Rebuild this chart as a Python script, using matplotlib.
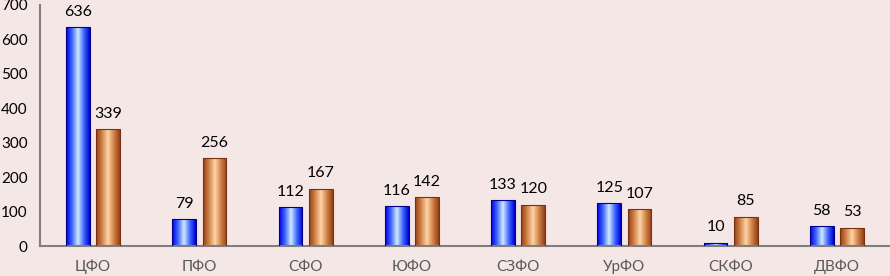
import matplotlib.pyplot as plt
import matplotlib.colors as mcolors
import numpy as np

regions = ["ЦФО", "ПФО", "СФО", "ЮФО", "СЗФО", "УрФО", "СКФО", "ДВФО"]
series_a = [636, 79, 112, 116, 133, 125, 10, 58]
series_b = [339, 256, 167, 142, 120, 107, 85, 53]

plt.rcParams['font.family'] = ['Lato', 'DejaVu Sans']
bg = '#F6E7E7'

fig = plt.figure(figsize=(8.9, 2.76), dpi=100, facecolor=bg)
ax = fig.add_axes([40 / 890, 30 / 276, 850 / 890, 241 / 276], facecolor=bg)

blue = mcolors.LinearSegmentedColormap.from_list(
    'blue', ['#0000E0', '#4068FF', '#D0EAFF', '#4068FF', '#0000D0'])
brown = mcolors.LinearSegmentedColormap.from_list(
    'brown', ['#963E16', '#D08448', '#FFD4A8', '#D08448', '#963E16'])
grad = np.linspace(0, 1, 64).reshape(1, -1)

x = np.arange(len(regions))
w = 0.225
off = 0.142


def draw(xs, vals, cmap, edge):
    bars = ax.bar(xs, vals, w, color='none', edgecolor=edge, linewidth=0.8, zorder=3)
    for b, v in zip(bars, vals):
        x0 = b.get_x()
        im = ax.imshow(grad, cmap=cmap, aspect='auto', zorder=2,
                       extent=(x0, x0 + b.get_width(), 0, v))
        im.set_clip_path(b)
        ax.text(b.get_x() + b.get_width() / 2, v + 24, str(v), ha='center', va='bottom',
                fontsize=11.5, color='#000000')


draw(x - off, series_a, blue, '#00008B')
draw(x + off, series_b, brown, '#7A3010')

ax.set_xlim(-0.5, len(regions) - 0.5)
ax.set_ylim(0, 700)
ax.set_yticks(range(0, 701, 100))
ax.set_xticks(x, regions)
ax.tick_params(axis='y', length=0, labelsize=11, pad=9)
ax.tick_params(axis='x', length=0, labelsize=11, labelcolor='#595959', pad=10)
for s in ['top', 'right']:
    ax.spines[s].set_visible(False)
for s in ['left', 'bottom']:
    ax.spines[s].set_color('#7F7F7F')
    ax.spines[s].set_linewidth(1.5)

fig.savefig('out.png', dpi=100, facecolor=bg)
